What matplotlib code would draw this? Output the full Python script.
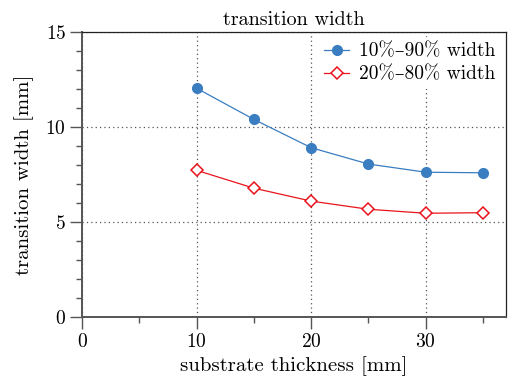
import matplotlib.pyplot as plt
from matplotlib.ticker import MultipleLocator

plt.rcParams['font.family'] = ['cmr10', 'DejaVu Serif']
plt.rcParams['mathtext.fontset'] = 'cm'
plt.rcParams['axes.formatter.use_mathtext'] = True

BLUE = '#3a7dc0'
RED = '#e8141c'
AXIS = '#555555'

thickness = [10, 15, 20, 25, 30, 35]
width_10_90 = [12.04, 10.4, 8.91, 8.05, 7.62, 7.59]
width_20_80 = [7.72, 6.78, 6.1, 5.67, 5.46, 5.49]

fig = plt.figure(figsize=(5.08, 3.78), dpi=100)
ax = fig.add_axes([82 / 508, 61 / 378, 424 / 508, 285 / 378])

ax.plot(thickness, width_10_90, color=BLUE, lw=0.9, marker='o', ms=7,
        mfc=BLUE, mec=BLUE, label='10%–90% width', zorder=3)
ax.plot(thickness, width_20_80, color=RED, lw=0.9, marker='D', ms=6,
        mfc='white', mec=RED, mew=1.1, label='20%–80% width', zorder=3)

ax.set_xlim(0, 37)
ax.set_ylim(0, 15)
ax.xaxis.set_major_locator(MultipleLocator(10))
ax.xaxis.set_minor_locator(MultipleLocator(5))
ax.yaxis.set_major_locator(MultipleLocator(5))
ax.yaxis.set_minor_locator(MultipleLocator(1))

ax.set_axisbelow(True)
ax.grid(True, which='major', ls=(0, (1, 2.5)), color='#555555', lw=0.9)

for side in ('left', 'bottom'):
    ax.spines[side].set_color(AXIS)
    ax.spines[side].set_linewidth(1.4)
for side in ('top', 'right'):
    ax.spines[side].set_color('#222222')
    ax.spines[side].set_linewidth(0.9)

ax.tick_params(which='major', direction='out', length=8.5, width=1.0,
               color=AXIS, labelsize=14, pad=3, top=False, right=False)
ax.tick_params(which='minor', direction='out', length=4.5, width=1.0,
               color=AXIS, top=False, right=False)

ax.set_title('transition width', fontsize=14.5, pad=5)
ax.set_xlabel('substrate thickness [mm]', fontsize=15, labelpad=4)
ax.set_ylabel('transition width [mm]', fontsize=15, labelpad=8)

leg = ax.legend(loc='upper right', fontsize=14, frameon=True,
                facecolor='white', edgecolor='none', framealpha=1,
                borderaxespad=0.25, handlelength=1.3, labelspacing=0.25,
                handletextpad=0.5, borderpad=0.3)
leg.get_frame().set_boxstyle('square', pad=0)

fig.savefig('out.png', dpi=100)
